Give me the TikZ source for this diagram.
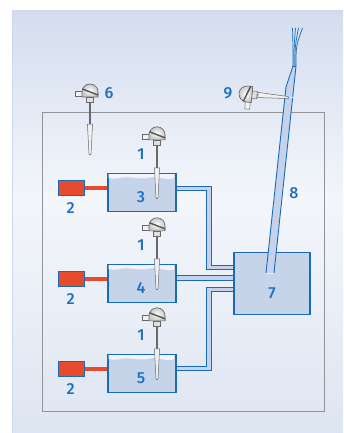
\documentclass[tikz,border=0pt]{standalone}
\usepackage{fontspec}
\setmainfont{Fira Sans}
\newfontfamily\numfont{Fira Sans Medium}
\usepackage{xcolor}
\usetikzlibrary{arrows.meta, positioning, calc}

\definecolor{lineblue}{RGB}{26,106,182}
\definecolor{textblue}{RGB}{28,112,192}
\definecolor{tankfill}{RGB}{198,212,234}
\definecolor{pipefill}{RGB}{196,211,235}
\definecolor{panelA}{RGB}{212,221,239}
\definecolor{panelB}{RGB}{243,246,251}
\definecolor{panelC}{RGB}{222,229,242}
\definecolor{heatred}{RGB}{232,74,46}
\definecolor{sgrey}{RGB}{105,105,105}

\tikzset{
  pics/thermo/.style={code={
    \draw[sgrey, line width=1.1pt] (0,10) -- (0,#1);
    \filldraw[draw=sgrey, fill=gray!12, line width=0.5pt]
      (-2.6,#1-31) -- (2.6,#1-31) -- (1,#1-1) -- (0,#1) -- (-1,#1-1) -- cycle;
    \filldraw[draw=sgrey, fill=gray!25, line width=0.5pt] (-4,5) rectangle (3.5,10);
    \filldraw[draw=sgrey, fill=gray!10, line width=0.5pt] (-15,-1) rectangle (-7,4);
    \filldraw[draw=sgrey, inner color=white, outer color=gray!45, line width=0.6pt]
      (-8,5) -- (-8,0) arc (180:360:8) -- (8,5) -- cycle;
    \draw[sgrey!80!black, line width=1.4pt] (-7.5,-3) -- (8,3);
  }}
}

\begin{document}
\begin{tikzpicture}[x=1pt, y=-1pt,
    tank/.style={draw=lineblue, line width=1.4pt, fill=tankfill,
      minimum width=68pt, minimum height=38pt, inner sep=0pt},
    heater/.style={draw=lineblue, line width=1pt, fill=heatred,
      minimum width=26pt, minimum height=15pt, inner sep=0pt},
    rod/.style={heatred, line width=4pt},
    pipe/.style={draw=lineblue, line width=1pt, double=pipefill,
      double distance=3.8pt, line join=miter},
    lbl/.style={text=textblue, font=\numfont\fontsize{16}{16}\selectfont}]
  \useasboundingbox (0,0) rectangle (343,433);
  % panel and housing
  \shade[top color=panelA, bottom color=panelB] (12,11) rectangle (343,200);
  \shade[top color=panelB, bottom color=panelC] (12,200) rectangle (343,433);
  \draw[panelA!75!lineblue!60, line width=0.8pt] (12,433) -- (12,11) -- (343,11);
  \draw[gray!85, line width=0.9pt] (42,112) rectangle (324,411);

  % tanks, heaters and collector
  \node[tank] (tank3) at (142,192.5) {};
  \node[tank] (tank4) at (142,283.5) {};
  \node[tank] (tank5) at (142,373.5) {};
  \node[tank, minimum width=76pt, minimum height=62pt] (box7) at (272,283.5) {};
  \draw[pipe] ([yshift=4pt]tank3.east) -- ++(32,0) |- ([yshift=16pt]box7.west);
  \draw[pipe] ([yshift=5.5pt]tank4.east) -- ([yshift=5.5pt]box7.west);
  \draw[pipe] ([yshift=5pt]tank5.east) -- ++(32,0) |- ([yshift=-6pt]box7.west);
  \foreach \t in {3,4,5} {
    \node[tank] at (tank\t) {};
    \fill[white!75!tankfill, shift={($(tank\t.north west)+(1.4,1.4)$)}]
      (0,0) -- (65.2,0) -- (65.2,4) .. controls (57,7) and (49,1) .. (40,3.5)
      .. controls (30,6) and (20,1) .. (10,4) .. controls (6,5) and (3,4) .. (0,4) -- cycle;
    \node[heater, left=22pt of tank\t.west, yshift=4.5pt, anchor=east] (heat\t) {};
    \draw[rod] (heat\t.east) -- (heat\t.east -| tank\t.west);
    \pic at ($(tank\t.north)+(15,-38)$) {thermo=64};
  }
  \node[tank, minimum width=76pt, minimum height=62pt] at (box7) {};

  % outdoor sensors
  \pic at (90,92) {thermo=63};

  % exhaust stack
  \coordinate (stack top) at (294.5,66);
  \fill[pipefill] (266,273) -- (286,87) -- (293,66) -- (296,66) -- (274,273) -- cycle;
  \draw[lineblue, line width=0.9pt] (266,273) -- (286,87) -- (293,66);
  \draw[lineblue, line width=0.9pt] (274,273) -- (296,66);
  \draw[white!60!pipefill, line width=0.8pt] (266,273) -- (274,273);
  \draw[white!50!pipefill, line width=0.6pt] (286,97) -- (295,97);
  \foreach \dx/\tx in {-1.5/-2, -0.5/1, 0.5/4, 1.5/8}
    \draw[lineblue, line width=0.7pt] ($(stack top)+(\dx,0)$) .. controls ($(stack top)+(\dx,-20)$) .. ($(stack top)+(\tx,-38)$);
  \draw[lineblue, line width=0.6pt] (293,66) -- (296,66);
  \pic[rotate=85] at (247,94) {thermo=42};

  % labels
  \foreach \t in {3,4,5} {
    \node[lbl] (num\t) at ($(tank\t)+(-1,4.5)$) {\t};
    \node[lbl] at ($(tank\t)+(-1,-38.5)$) {1};
    \node[lbl] at ($(heat\t)+(-1,20)$) {2};
  }
  \node[lbl] (num7) at (272,293) {7};
  \node[lbl] (num8) at (294,193) {8};
  \node[lbl] (num6) at (109,93) {6};
  \node[lbl] (num9) at (228,93) {9};
\end{tikzpicture}
\end{document}
